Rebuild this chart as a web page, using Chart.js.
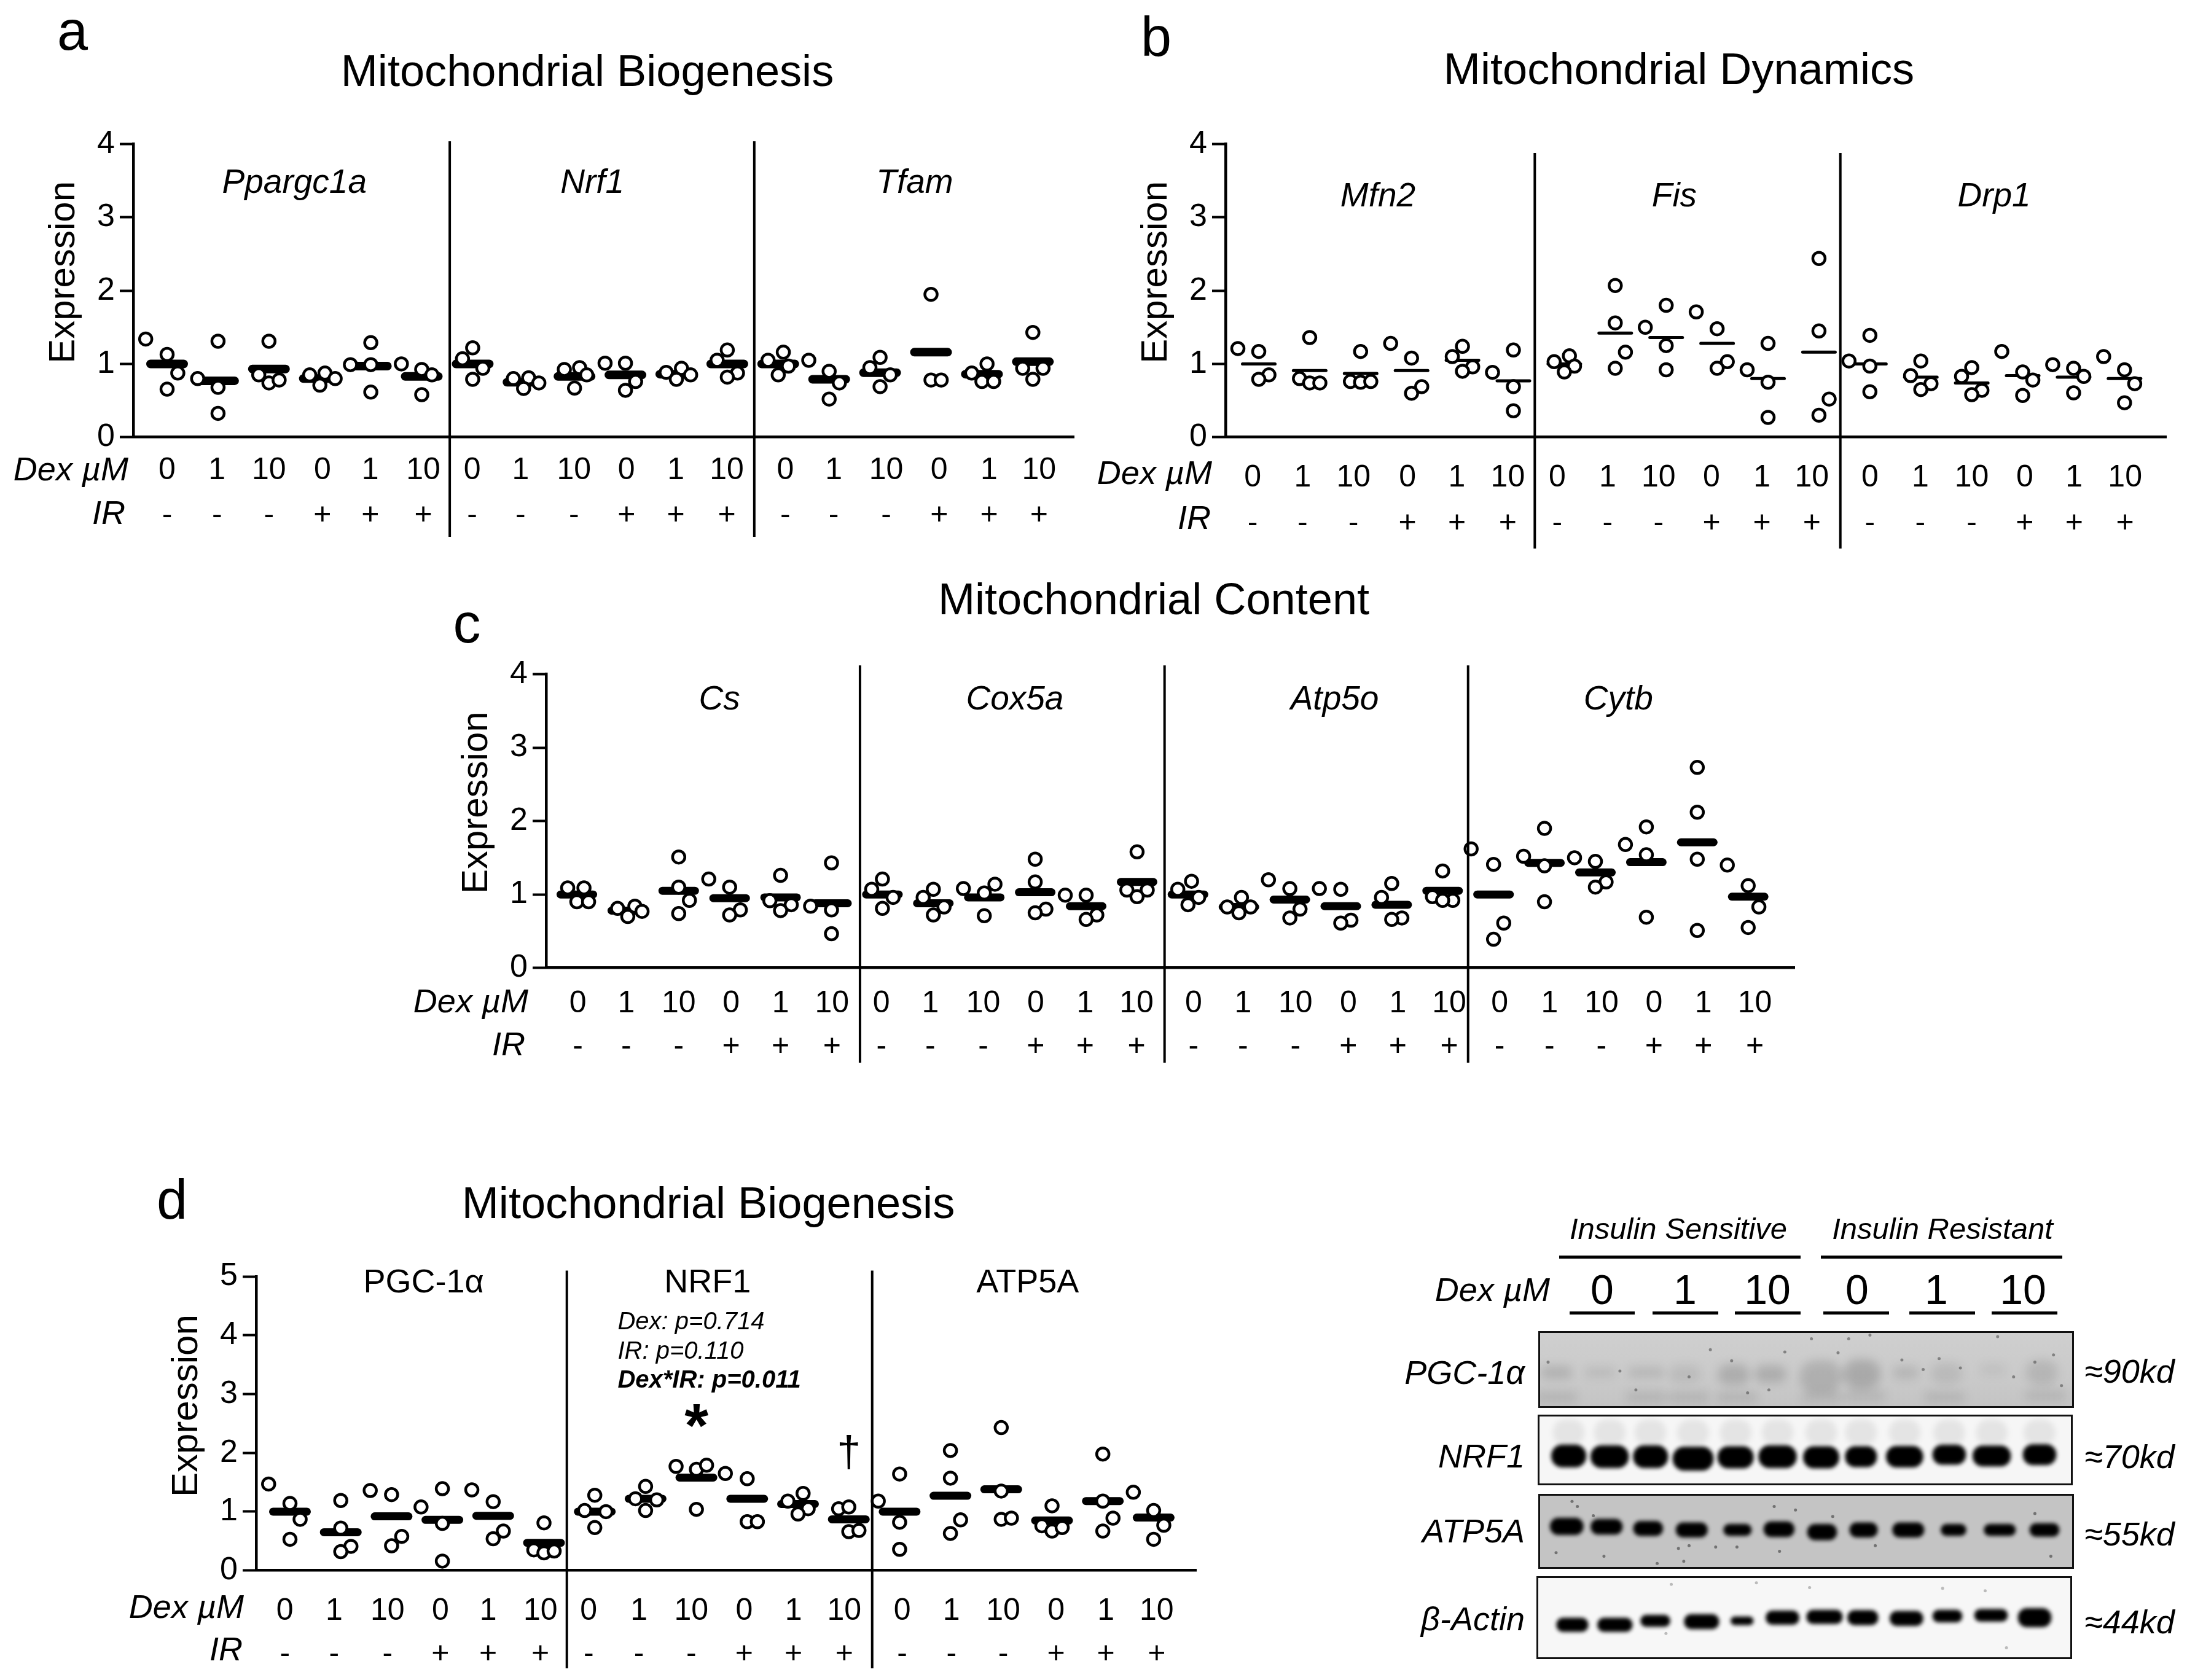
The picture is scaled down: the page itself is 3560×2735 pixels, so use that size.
<!DOCTYPE html>
<html>
<head>
<meta charset="utf-8">
<title>Mitochondrial expression</title>
<script src="https://cdn.jsdelivr.net/npm/chart.js@4/dist/chart.umd.js"></script>
<style>
body { margin: 0; background: #fff; width: 3560px; height: 2735px; position: relative; overflow: hidden; font-family: "Liberation Sans", Arial, sans-serif; color: #000; }
canvas { position: absolute; display: block; }
.lbl { position: absolute; white-space: nowrap; }
.rule { position: absolute; background: #000; }
</style>
</head>
<body>
<script>
// tick rows
const dexLabels = ['0', '1', '10', '0', '1', '10'];
const irLabels = ['-', '-', '-', '+', '+', '+'];

// panel a - mean, then the dots of each condition (jitter = sideways shift in slots)
const aMeans = [1.0, .77, .93, .8, .97, .83, 1.0, .75, .83, .85, .86, 1.0, 1.0, .79, .88, 1.16, .86, 1.03];
const aValues = [[1.34,1.13,.875,.655],[.8,1.31,.68,.325],[1.31,.85,.74,.78],[.85,.875,.71,.8],[1.29,.99,.99,.615],[1.0,.925,.85,.58],
  [1.22,1.07,.94,.79],[.8,.81,.74,.665],[.925,.95,.85,.67],[1.01,1.01,.76,.64],[.885,.94,.85,.79],[1.19,1.05,.875,.82],
  [1.05,1.16,.97,.85],[1.05,.9,.74,.52],[1.09,.95,.85,.69],[1.95,.78,.78],[.875,1.0,.76,.76],[1.43,.94,.94,.79]];
const aJitter = [[-.42,0,.21,0],[-.4,0,0,0],[0,-.2,0,.2],[-.2,.1,0,.3],[0,-.4,0,0],[-.4,0,.2,0],
  [0,-.2,.2,0],[-.2,.1,.3,0],[-.2,.1,.24,0],[-.4,0,.2,0],[-.2,.1,.28,0],[0,-.2,.2,0],
  [-.2,.1,.2,0],[-.4,0,.2,0],[0,-.2,.2,0],[0,0,.2],[-.2,.1,0,.23],[0,-.2,.2,0]];

// panel b
const bMeans = [1.0, .91, .87, .91, 1.05, .77, 1.0, 1.42, 1.36, 1.28, .8, 1.16, 1.0, .82, .74, .84, .82, .8];
const bValues = [[1.21,1.17,.85,.79],[1.36,.8,.74,.74],[1.17,.76,.75,.76],[1.28,1.08,.69,.6],[1.24,1.1,.96,.9],[.885,1.19,.69,.36],
  [1.03,1.11,.97,.89],[2.07,1.56,1.16,.94],[1.5,1.8,1.25,.92],[1.71,1.48,1.03,.94],[.92,1.28,.75,.27],[2.44,1.45,.52,.3],
  [1.04,1.39,.97,.62],[1.04,.84,.73,.65],[.95,.83,.64,.58],[1.17,.89,.78,.57],[.99,.94,.83,.605],[1.1,.92,.73,.47]];
const bJitter = [[-.41,0,.2,0],[0,-.2,0,.2],[0,-.2,0,.2],[-.41,0,.2,0],[0,-.2,.2,0],[-.41,0,0,0],
  [-.2,.1,.2,0],[0,0,.2,0],[-.41,0,0,0],[-.41,0,.2,0],[-.41,0,0,0],[0,0,.2,0],
  [-.41,0,0,0],[0,-.2,.2,0],[0,-.2,.2,0],[-.41,0,.2,0],[-.41,0,.2,0],[-.41,0,.2,0]];

// panel c
const cMeans = [1.0, .78, 1.05, .95, .96, .88, 1.0, .88, .96, 1.03, .84, 1.17, 1.0, .83, .93, .84, .86, 1.05, 1.0, 1.43, 1.3, 1.44, 1.71, .97];
const cValues = [[1.09,1.09,.9,.9],[.81,.84,.7,.77],[1.51,1.1,.92,.74],[1.21,1.1,.79,.72],[1.26,.915,.86,.78],[.84,1.43,.79,.465],
  [1.21,1.07,.96,.81],[1.07,.96,.83,.72],[1.08,1.14,1.02,.71],[1.48,1.17,.8,.75],[.99,.99,.72,.66],[1.58,1.06,1.06,.97],
  [1.07,1.18,.96,.86],[.83,.96,.83,.75],[1.2,1.08,.8,.68],[1.08,1.07,.65,.61],[1.15,.96,.68,.66],[1.32,.97,.92,.92],
  [1.62,1.41,.61,.39],[1.52,1.9,1.39,.9],[1.5,1.45,1.17,1.1],[1.68,1.92,1.54,.69],[2.73,2.12,1.48,.51],[1.4,1.12,.83,.55]];
const cJitter = [[-.18,.14,0,.23],[-.2,.14,0,.28],[0,0,.21,0],[-.41,0,.21,0],[0,-.21,.21,0],[-.41,0,0,0],
  [0,-.21,.21,0],[0,-.2,.21,0],[-.41,.21,0,0],[0,0,.21,0],[-.41,0,.21,0],[0,-.2,.2,0],
  [-.2,.07,.21,0],[-.23,.05,.23,0],[-.42,0,.2,0],[-.42,0,.2,0],[0,-.2,.2,0],[0,-.2,.2,0],
  [-.44,0,.2,0],[-.41,0,0,0],[-.41,0,.21,0],[-.41,0,0,0],[0,0,0,0],[-.41,0,.21,0]];

// panel d
const dMeans = [1.0, .65, .92, .86, .93, .47, 1.0, 1.22, 1.58, 1.22, 1.13, .87, 1.0, 1.27, 1.38, .85, 1.18, .9];
const dValues = [[1.47,1.14,.87,.53],[1.19,.72,.41,.32],[1.36,1.29,.58,.42],[1.08,1.39,.8,.16],[1.37,1.17,.67,.54],[.81,.35,.3,.33],
  [1.28,1.02,1.0,.73],[1.43,1.22,1.2,1.02],[1.77,1.72,1.79,1.04],[1.65,1.56,.83,.83],[1.18,1.31,1.05,.96],[1.05,1.08,.66,.68],
  [1.18,1.64,.82,.36],[2.04,1.57,.86,.63],[2.43,1.35,.87,.89],[1.1,.76,.67,.73],[1.98,1.18,.89,.67],[1.33,1.02,.77,.53]];
const dJitter = [[-.42,0,.2,0],[0,0,.2,0],[-.42,0,.2,0],[-.42,0,0,0],[-.42,0,.2,0],[0,-.2,0,.2],
  [0,-.2,.22,0],[0,-.2,.22,0],[-.4,0,.2,0],[-.43,0,0,.2],[-.2,.1,.2,0],[-.2,0,0,.2],
  [-.42,0,0,0],[0,0,.2,0],[0,0,0,.2],[0,-.2,0,.2],[0,0,.2,0],[-.4,0,.2,0]];

// blots: lane centre and band size as % of the membrane, darkness 0-1
const pgcLanes = [3.1, 11.3, 20, 27.2, 36.4, 43.3, 52.8, 60.5, 68.7, 76.4, 85.1, 94.3];
const pgcRows = [54, 54, 54, 56, 57, 56, 60, 56, 54, 55, 50, 54];
const pgcWide = [6, 6, 7, 6, 6, 6, 8, 7, 5, 6, 5, 6];
const pgcTall = [18, 14, 14, 25, 28, 24, 45, 40, 18, 30, 16, 35];
const pgcDark = [.12, .08, .1, .07, .14, .14, .13, .16, .1, .08, .05, .1];
const pgcLowLanes = [3, 20, 28, 37, 53, 61, 76, 95];
const pgcLowRows = [88, 88, 88, 88, 88, 85, 88, 85];
const nrf1Lanes = [5.5, 13.2, 20.9, 28.9, 36.9, 44.8, 53, 60.5, 68.7, 77.1, 85.1, 94.1];
const nrf1Rows = [59, 60, 60, 63, 61, 60, 61, 60, 60, 57, 59, 57];
const nrf1Wide = [6.6, 7.2, 6.6, 7.7, 6.8, 7.2, 6.8, 6, 7, 6.3, 7.2, 6.3];
const nrf1Tall = [34, 34, 34, 36, 33, 34, 33, 31, 32, 30, 31, 31];
const atp5aLanes = [5, 12.5, 20.3, 28.5, 37.1, 44.9, 53, 60.8, 69.2, 77.7, 86.4, 94.8];
const atp5aRows = [43, 43.5, 46, 48, 48, 47, 51, 48, 48, 48, 48, 48];
const atp5aWide = [6.3, 6, 5.6, 6, 5.3, 5.8, 5.6, 5.3, 6, 4.8, 6, 5.6];
const atp5aTall = [24, 22, 21, 21, 17, 22, 23, 21, 21, 17, 17, 19];
const actinLanes = [6.4, 14.4, 22, 30.7, 38.3, 45.9, 53.8, 61, 69.2, 76.9, 85.1, 93.3];
const actinRows = [59, 59, 54, 55, 54, 50, 49, 50, 51, 48, 47, 50];
const actinWide = [6, 6.6, 5.6, 6.6, 4.3, 6.3, 6.8, 5.8, 6.3, 5.6, 6.3, 6.3];
const actinTall = [18, 18, 15, 19, 11, 18, 18, 19, 19, 16, 16, 24];
const pgcSpecks = [[1.5,40],[15,52],[32,23],[36,38],[46,26],[51,8],[56,27],[62,3],[68,37],[75,35],[86,5],[93,40],[98,72],[28,60],[18,78],[43,78],[39,82],[72,50],[96.5,30],[89,60],[79,48],[58,8]];
const atp5aSpecks = [[7,15],[6,8],[10,28],[26,74],[28,70],[37,72],[45,78],[12,85],[27,92],[3,80],[22,95],[55,29],[93,25],[96,85],[33,72],[44,15],[48,20],[63,70]];
const actinSpecks = [[25,8],[76,13],[51,12],[84,16],[24,70],[88,88],[41,6]];

const FONT = '"Liberation Sans", Arial, sans-serif';

function label(text, x, y, size, anchor, css) {
  const el = document.createElement('div');
  el.className = 'lbl';
  el.textContent = text;
  const shift = anchor === 'end' ? '-100%' : anchor === 'start' ? '0' : '-50%';
  el.style.cssText = `left:${x}px;top:${y}px;font-size:${size}px;transform:translate(${shift},-50%);${css || ''}`;
  document.body.appendChild(el);
}

function rule(x1, x2, y) {
  const el = document.createElement('div');
  el.className = 'rule';
  el.style.cssText = `left:${x1}px;width:${x2 - x1}px;top:${y - 2}px;height:5px`;
  document.body.appendChild(el);
}

// separators and the gene / stats text sit in data space
const panelExtras = {
  id: 'panelExtras',
  beforeDatasetsDraw(chart) {
    chart.ctx.lineCap = 'round'; // mean bars have round ends
  },
  afterDraw(chart, args, opts) {
    const { ctx, scales: { x, y } } = chart;
    ctx.save();
    ctx.lineCap = 'butt';
    ctx.strokeStyle = '#000';
    ctx.lineWidth = 4;
    opts.seps.forEach(s => {
      ctx.beginPath();
      ctx.moveTo(x.getPixelForValue(s), y.getPixelForValue(opts.sepTop));
      ctx.lineTo(x.getPixelForValue(s), opts.sepBottom);
      ctx.stroke();
    });
    ctx.fillStyle = '#000';
    ctx.textBaseline = 'middle';
    opts.notes.forEach(n => {
      ctx.font = n.font;
      ctx.textAlign = n.align || 'center';
      ctx.fillText(n.text, x.getPixelForValue(n.x), y.getPixelForValue(n.y));
    });
    ctx.font = `60px ${FONT}`;
    ctx.textAlign = 'center';
    ctx.translate(x.left - 113, y.getPixelForValue(opts.yTitleAt));
    ctx.rotate(-Math.PI / 2);
    ctx.fillText('Expression', 0, 0);
    ctx.restore();
  }
};

function makePanel(p) {
  const leftW = 150, rightPad = 10;
  const canvas = document.createElement('canvas');
  const top = Math.floor(p.yTop - 40);
  const bottom = p.sepBottom + 10;
  canvas.width = p.axisRight + rightPad - (p.axisLeft - leftW);
  canvas.height = bottom - top;
  canvas.style.left = (p.axisLeft - leftW) + 'px';
  canvas.style.top = top + 'px';
  document.body.appendChild(canvas);

  const dots = [], bars = [];
  p.values.forEach((vals, i) => {
    vals.forEach((v, k) => dots.push({ x: i + p.jitter[i][k], y: v }));
    bars.push({ x: i, y: p.means[i] });
  });
  const rows = p.ticks.map((t, i) => [dexLabels[i % 6], irLabels[i % 6]]);

  new Chart(canvas, {
    type: 'scatter',
    data: {
      datasets: [
        { data: dots, pointRadius: 10, pointBorderWidth: 4.5, pointBackgroundColor: '#fff', pointBorderColor: '#000', clip: false },
        { data: bars, pointStyle: 'line', pointRadius: (p.barLen - p.barWeight) / 2, pointBorderWidth: p.barWeight, pointBorderColor: '#000', clip: false }
      ]
    },
    options: {
      responsive: false,
      animation: false,
      devicePixelRatio: 1,
      events: [],
      layout: { autoPadding: false, padding: { top: p.yTop - top, right: rightPad, left: 0, bottom: 0 } },
      plugins: {
        legend: { display: false },
        tooltip: { enabled: false },
        panelExtras: { seps: p.seps, sepTop: p.sepTop, sepBottom: p.sepBottom - top, notes: p.notes, yTitleAt: p.yTitleAt }
      },
      scales: {
        x: {
          type: 'linear',
          min: (p.axisLeft - p.first) / p.slot,
          max: (p.axisRight - p.first) / p.slot,
          afterFit: ax => { ax.height = bottom - p.y0; ax.paddingLeft = 0; ax.paddingRight = 0; },
          afterBuildTicks: ax => { ax.ticks = p.ticks.map(v => ({ value: v })); },
          border: { color: '#000', width: 4.5 },
          grid: { display: true, drawOnChartArea: false, drawTicks: false },
          ticks: {
            autoSkip: false, maxRotation: 0, minRotation: 0, color: '#000', padding: p.tickPad,
            font: { family: FONT, size: 50, lineHeight: p.rowGap + 'px' },
            callback: (v, i) => rows[i]
          }
        },
        y: {
          min: 0,
          max: p.yMax,
          afterFit: ax => { ax.width = leftW; },
          border: { color: '#000', width: 4.5 },
          grid: { drawOnChartArea: false, tickLength: 22, tickWidth: 4, tickColor: '#000' },
          ticks: { stepSize: 1, color: '#000', padding: 8, font: { family: FONT, size: 52 } }
        }
      }
    },
    plugins: [panelExtras]
  });
}

function bandStamp(w, h, dark, blur) {
  const c = document.createElement('canvas');
  c.width = Math.ceil(w + blur * 6);
  c.height = Math.ceil(h + blur * 6);
  const g = c.getContext('2d');
  g.filter = `blur(${blur}px)`;
  g.fillStyle = `rgba(0,0,0,${dark})`;
  g.beginPath();
  g.roundRect((c.width - w) / 2, (c.height - h) / 2, w, h, h * .48);
  g.fill();
  return c;
}

function makeBlot(b) {
  const canvas = document.createElement('canvas');
  canvas.width = b.w;
  canvas.height = b.h;
  canvas.style.cssText = `left:${b.x}px;top:${b.y}px;background:${b.bg};box-shadow:0 0 0 3px #111;`;
  document.body.appendChild(canvas);
  const stamps = b.lanes.map((v, i) =>
    bandStamp(b.wide[i] * b.w / 100, b.tall[i] * b.h / 100, b.dark ? b.dark[i] : 1, b.blur));
  const datasets = [];
  datasets.push({
    data: (b.specks || []).map(s => ({ x: s[0], y: s[1] })),
    pointRadius: 2.5, pointBorderWidth: 0, pointBackgroundColor: b.speckColor
  });
  datasets.push({
    data: b.lanes.map((v, i) => ({ x: v, y: b.rows[i] })),
    pointRadius: 5, pointStyle: c => stamps[c.dataIndex]
  });
  if (b.smear) {
    const smear = bandStamp(b.smear.wide * b.w / 100, b.smear.tall * b.h / 100, b.smear.dark, b.smear.blur);
    datasets.push({
      data: b.smear.lanes.map((v, i) => ({ x: v, y: b.smear.rows[i] })),
      pointRadius: 5, pointStyle: smear
    });
  }
  new Chart(canvas, {
    type: 'scatter',
    data: { datasets },
    options: {
      responsive: false,
      animation: false,
      devicePixelRatio: 1,
      events: [],
      layout: { autoPadding: false, padding: 0 },
      plugins: { legend: { display: false }, tooltip: { enabled: false } },
      scales: {
        x: { display: false, min: 0, max: 100 },
        y: { display: false, min: 0, max: 100, reverse: true }
      }
    }
  });
}

const italic = size => `italic ${size}px ${FONT}`;

makePanel({
  means: aMeans, values: aValues, jitter: aJitter,
  axisLeft: 217, axisRight: 1748, first: 272, slot: 82.9, yTop: 234.7, y0: 711.7, yMax: 4,
  seps: [5.55, 11.53], sepTop: 4.04, sepBottom: 874, barLen: 68, barWeight: 14, tickPad: 18, rowGap: 73, yTitleAt: 2.25,
  ticks: [0, .98, 2, 3.05, 3.99, 5.03, 5.99, 6.94, 7.99, 9.02, 9.99, 10.99, 12.14, 13.09, 14.12, 15.16, 16.14, 17.12],
  notes: [
    { text: 'Ppargc1a', x: 2.5, y: 3.46, font: italic(55) },
    { text: 'Nrf1', x: 8.35, y: 3.46, font: italic(55) },
    { text: 'Tfam', x: 14.68, y: 3.46, font: italic(55) }
  ]
});

makePanel({
  means: bMeans, values: bValues, jitter: bJitter,
  axisLeft: 1995, axisRight: 3526, first: 2049, slot: 82.9, yTop: 234.7, y0: 711.7, yMax: 4,
  seps: [5.42, 11.42], sepTop: 3.88, sepBottom: 893, barLen: 58, barWeight: 5, tickPad: 30, rowGap: 74, yTitleAt: 2.25,
  ticks: [-.12, .86, 1.86, 2.92, 3.89, 4.89, 5.86, 6.85, 7.85, 8.89, 9.88, 10.86, 12, 12.99, 14, 15.04, 16.01, 17.01],
  notes: [
    { text: 'Mfn2', x: 2.34, y: 3.28, font: italic(55) },
    { text: 'Fis', x: 8.16, y: 3.28, font: italic(55) },
    { text: 'Drp1', x: 14.44, y: 3.28, font: italic(55) }
  ]
});

makePanel({
  means: cMeans, values: cValues, jitter: cJitter,
  axisLeft: 889, axisRight: 2921, first: 939, slot: 82.9, yTop: 1097.5, y0: 1575.7, yMax: 4,
  seps: [5.56, 11.54, 17.5], sepTop: 4.12, sepBottom: 1730, barLen: 66, barWeight: 13, tickPad: 24, rowGap: 70, yTitleAt: 2.25,
  ticks: [.02, .97, 2, 3.03, 4, 5.01, 5.98, 6.94, 7.98, 9.01, 9.98, 10.99, 12.11, 13.08, 14.11, 15.15, 16.12, 17.13, 18.12, 19.1, 20.12, 21.15, 22.12, 23.13],
  notes: [
    { text: 'Cs', x: 2.8, y: 3.65, font: italic(55) },
    { text: 'Cox5a', x: 8.6, y: 3.65, font: italic(55) },
    { text: 'Atp5o', x: 14.88, y: 3.65, font: italic(55) },
    { text: 'Cytb', x: 20.45, y: 3.65, font: italic(55) }
  ]
});

makePanel({
  means: dMeans, values: dValues, jitter: dJitter,
  axisLeft: 417, axisRight: 1947, first: 472, slot: 82.7, yTop: 2078, y0: 2556.7, yMax: 5,
  seps: [5.45, 11.46], sepTop: 5.1, sepBottom: 2716, barLen: 68, barWeight: 13, tickPad: 32, rowGap: 70, yTitleAt: 2.8,
  ticks: [-.1, .87, 1.92, 2.96, 3.9, 4.93, 5.88, 6.87, 7.9, 8.94, 9.91, 10.91, 12.05, 13.02, 14.04, 15.08, 16.06, 17.06],
  notes: [
    { text: 'PGC-1\u03b1', x: 2.63, y: 4.88, font: `54px ${FONT}` },
    { text: 'NRF1', x: 8.22, y: 4.88, font: `54px ${FONT}` },
    { text: 'ATP5A', x: 14.52, y: 4.88, font: `54px ${FONT}` },
    { text: 'Dex: p=0.714', x: 6.45, y: 4.22, font: italic(40), align: 'left' },
    { text: 'IR: p=0.110', x: 6.45, y: 3.72, font: italic(40), align: 'left' },
    { text: 'Dex*IR: p=0.011', x: 6.45, y: 3.22, font: `italic bold 40px ${FONT}`, align: 'left' },
    { text: '*', x: 8, y: 2.4, font: `bold 100px ${FONT}` },
    { text: '\u2020', x: 11, y: 1.97, font: `70px ${FONT}` }
  ]
});

makeBlot({ x: 2507, y: 2170, w: 866, h: 119, bg: 'linear-gradient(180deg,#cfcfcf,#cacaca 60%,#c4c4c4)', lanes: pgcLanes, rows: pgcRows, wide: pgcWide, tall: pgcTall, dark: pgcDark, blur: 8, specks: pgcSpecks, speckColor: 'rgba(70,70,70,.55)',
  smear: { lanes: pgcLowLanes, rows: pgcLowRows, wide: 8, tall: 18, dark: .08, blur: 8 } });
makeBlot({ x: 2506, y: 2306, w: 865, h: 109, bg: '#f6f6f6', lanes: nrf1Lanes, rows: nrf1Rows, wide: nrf1Wide, tall: nrf1Tall, blur: 3,
  smear: { lanes: nrf1Lanes, rows: [24, 24, 24, 24, 24, 24, 24, 24, 24, 24, 24, 24], wide: 6, tall: 40, dark: .07, blur: 5 } });
makeBlot({ x: 2507, y: 2435, w: 866, h: 116, bg: '#c4c4c4', lanes: atp5aLanes, rows: atp5aRows, wide: atp5aWide, tall: atp5aTall, blur: 3, specks: atp5aSpecks, speckColor: 'rgba(60,60,60,.6)' });
makeBlot({ x: 2504, y: 2569, w: 866, h: 129, bg: '#f7f7f7', lanes: actinLanes, rows: actinRows, wide: actinWide, tall: actinTall, blur: 3, specks: actinSpecks, speckColor: '#bbb' });

// page text
label('a', 118, 50, 90);
label('b', 1882, 60, 90);
label('c', 760, 1015, 90);
label('d', 280, 1953, 90);
label('Mitochondrial Biogenesis', 956, 115, 72.2);
label('Mitochondrial Dynamics', 2733, 112, 72.2);
label('Mitochondrial Content', 1878, 975, 72.2);
label('Mitochondrial Biogenesis', 1153, 1958, 72.2);

const it = 'font-style:italic;';
[[209, 763, 204, 834], [1973, 769, 1971, 842], [860, 1629, 855, 1699], [397, 2615, 395, 2684]].forEach(r => {
  label('Dex \u00b5M', r[0], r[1], 54, 'end', it);
  label('IR', r[2], r[3], 54, 'end', it);
});

label('Insulin Sensitive', 2732, 2000, 49, 'middle', it);
label('Insulin Resistant', 3162, 2000, 49, 'middle', it);
rule(2538, 2931, 2046);
rule(2964, 3357, 2046);
label('Dex \u00b5M', 2523, 2099, 54, 'end', it);
[[2608, '0', 2555, 2661], [2743, '1', 2690, 2797], [2877, '10', 2824, 2931], [3023, '0', 2968, 3075], [3152, '1', 3108, 3215], [3293, '10', 3242, 3349]].forEach(d => {
  label(d[1], d[0], 2099, 68);
  rule(d[2], d[3], 2137);
});
[['PGC-1\u03b1', 2234, '\u224890kd', 2232], ['NRF1', 2370, '\u224870kd', 2371], ['ATP5A', 2492, '\u224855kd', 2497], ['\u03b2-Actin', 2635, '\u224844kd', 2640]].forEach(r => {
  label(r[0], 2482, r[1], 54, 'end', it);
  label(r[2], 3393, r[3], 54, 'start', it);
});
</script>
</body>
</html>
